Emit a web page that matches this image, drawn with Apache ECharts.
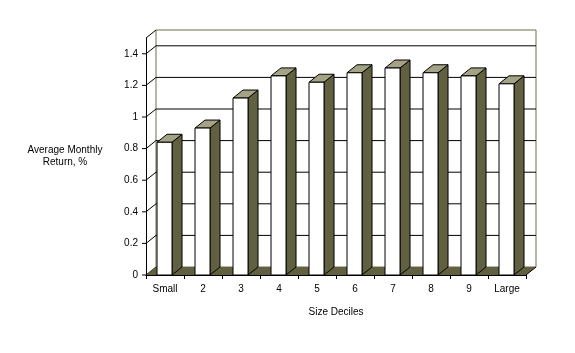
<!DOCTYPE html>
<html>
<head>
<meta charset="utf-8">
<script src="https://cdn.jsdelivr.net/npm/echarts@6/dist/echarts.min.js"></script>
<style>
html,body{margin:0;padding:0;background:#fff;}
#chart{width:575px;height:353px;}
</style>
</head>
<body>
<div id="chart"></div>
<script>
// ---- data ----
var categories = ['Small', '2', '3', '4', '5', '6', '7', '8', '9', 'Large'];
var returns = [0.84, 0.93, 1.12, 1.26, 1.22, 1.28, 1.31, 1.28, 1.26, 1.21];
var yTicks = [0, 0.2, 0.4, 0.6, 0.8, 1.0, 1.2, 1.4];
var yMax = 1.5;
var yTitle = 'Average Monthly\nReturn, %';
var xTitle = 'Size Deciles';

// ---- style ----
var DX = 10, DY = 8;
var SIDE = '#616141', TOP = '#a4a385', WALL = '#6f6f4b';
var FONT = 'Arial, "Liberation Sans", sans-serif';

var chart = echarts.init(document.getElementById('chart'), null, {renderer: 'canvas'});

function wallsRender(params, api) {
  var cs = params.coordSys;
  var x0 = cs.x, x1 = cs.x + cs.width;
  var yb = api.coord([0, 0])[1];
  var yt = api.coord([0, yMax])[1];
  var ch = [];
  // back wall
  ch.push({type: 'rect', shape: {x: x0 + DX, y: yt - DY, width: cs.width, height: yb - yt},
    style: {fill: '#fff', stroke: WALL, lineWidth: 1}});
  // back-wall gridlines, side diagonals and y ticks
  yTicks.forEach(function (v) {
    var y = api.coord([0, v])[1];
    if (v > 0) {
      ch.push({type: 'line', shape: {x1: x0 + DX, y1: y - DY, x2: x1 + DX, y2: y - DY},
        style: {stroke: '#000', lineWidth: 1}});
    }
    ch.push({type: 'line', shape: {x1: x0, y1: y, x2: x0 + DX, y2: y - DY},
      style: {stroke: '#000', lineWidth: 1}});
    ch.push({type: 'line', shape: {x1: x0 - 4, y1: y, x2: x0, y2: y},
      style: {stroke: '#000', lineWidth: 1}});
  });
  ch.push({type: 'line', shape: {x1: x0, y1: yt, x2: x0 + DX, y2: yt - DY},
    style: {stroke: '#000', lineWidth: 1}});
  // floor
  ch.push({type: 'polygon', shape: {points: [[x0, yb], [x1, yb], [x1 + DX, yb - DY], [x0 + DX, yb - DY]]},
    style: {fill: SIDE, stroke: null}});
  ch.push({type: 'line', shape: {x1: x1, y1: yb, x2: x1 + DX, y2: yb - DY},
    style: {stroke: '#000', lineWidth: 1}});
  return {type: 'group', children: ch};
}

function barRender(params, api) {
  var i = api.value(0), v = api.value(1);
  var c = api.coord([i, v]);
  var base = api.coord([i, 0])[1];
  var bw = api.size([1, 0])[0];
  var xL = c[0] - bw * 0.21, xR = xL + bw * 0.395;
  var top = c[1];
  var st = {stroke: '#000', lineWidth: 1};
  return {type: 'group', children: [
    {type: 'polygon', shape: {points: [[xR, top], [xR + DX, top - DY], [xR + DX, base - DY], [xR, base]]},
      style: Object.assign({fill: SIDE}, st)},
    {type: 'polygon', shape: {points: [[xL, top], [xL + DX, top - DY], [xR + DX, top - DY], [xR, top]]},
      style: Object.assign({fill: TOP}, st)},
    {type: 'rect', shape: {x: xL, y: top, width: xR - xL, height: base - top},
      style: Object.assign({fill: '#fff'}, st)}
  ]};
}

var option = {
  animation: false,
  backgroundColor: '#fff',
  textStyle: {fontFamily: FONT},
  grid: {left: 146, top: 38, width: 380, height: 237, containLabel: false},
  xAxis: {
    type: 'category', data: categories, boundaryGap: true, z: 10,
    axisLine: {lineStyle: {color: '#000', width: 1}},
    axisTick: {show: true, length: 4, lineStyle: {color: '#000'}},
    axisLabel: {color: '#000', fontSize: 10, fontFamily: FONT, margin: 9},
    name: xTitle, nameLocation: 'middle', nameGap: 32,
    nameTextStyle: {color: '#000', fontSize: 10, fontFamily: FONT}
  },
  yAxis: {
    type: 'value', min: 0, max: yMax, interval: 0.2, z: 10,
    axisLine: {show: true, lineStyle: {color: '#000', width: 1}},
    axisTick: {show: false},
    splitLine: {show: false},
    axisLabel: {color: '#000', fontSize: 10, fontFamily: FONT, margin: 8, showMaxLabel: false,
      formatter: function (v) { return String(Math.round(v * 10) / 10); }},
    name: yTitle, nameLocation: 'middle', nameGap: 81, nameRotate: 0,
    nameTextStyle: {color: '#000', fontSize: 10, fontFamily: FONT, align: 'center', lineHeight: 12}
  },
  series: [
    {type: 'custom', renderItem: wallsRender, data: [[0, 0]], z: 1, silent: true},
    {type: 'custom', renderItem: barRender, z: 3,
      data: returns.map(function (v, i) { return [i, v]; })}
  ]
};
chart.setOption(option);
</script>
</body>
</html>
